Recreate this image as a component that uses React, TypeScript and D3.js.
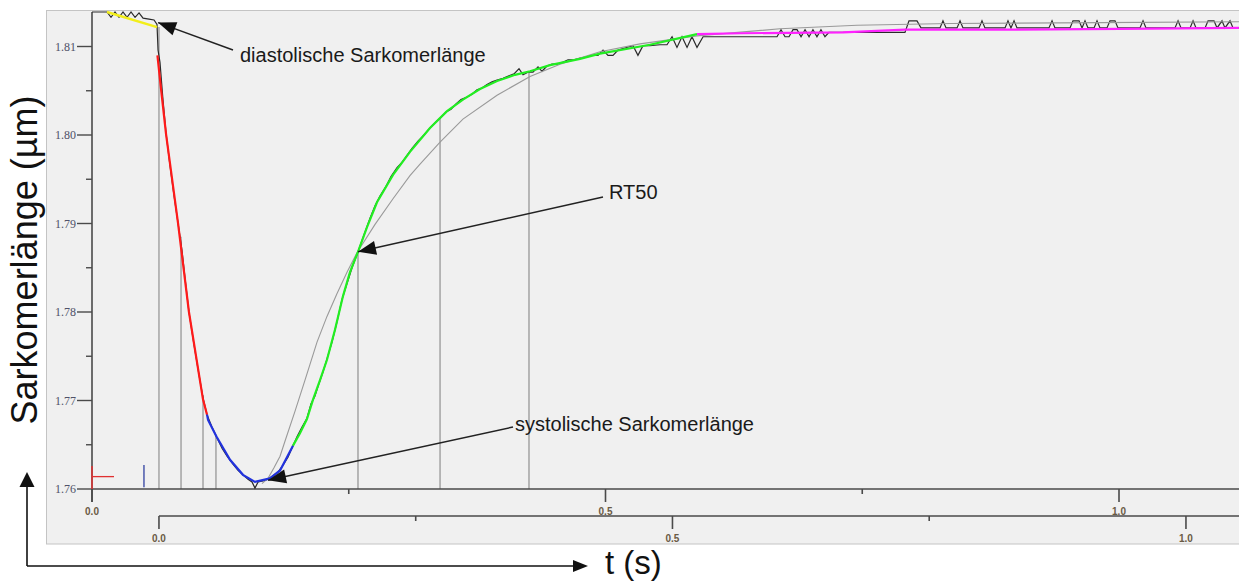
import React from 'react';
import * as d3 from 'd3';

const W = 1239;
const H = 582;

// raw sarcomere length trace: [t (s), length (µm)]
const rawTrace: [number, number][] = [
  [0, 1.8139], [0.0146, 1.8139], [0.0185, 1.8133], [0.0224, 1.8139], [0.0263, 1.8133],
  [0.0302, 1.8139], [0.0341, 1.8133], [0.038, 1.8139], [0.0419, 1.8133], [0.0458, 1.8138],
  [0.0497, 1.8132], [0.0555, 1.8131], [0.0604, 1.813], [0.0633, 1.8125], [0.0643, 1.8096],
  [0.0662, 1.8082], [0.0691, 1.804], [0.0721, 1.8002], [0.0759, 1.7966], [0.0798, 1.7932],
  [0.0837, 1.7901], [0.0876, 1.787], [0.0906, 1.7838], [0.0944, 1.78], [0.0993, 1.7763],
  [0.1042, 1.7729], [0.1081, 1.7703], [0.112, 1.7684], [0.1168, 1.767], [0.1217, 1.7658],
  [0.1266, 1.7646], [0.1315, 1.7637], [0.1373, 1.7628], [0.1422, 1.7621], [0.147, 1.7616],
  [0.1519, 1.7611], [0.1558, 1.7608], [0.1587, 1.7601], [0.1617, 1.7608], [0.1665, 1.7609],
  [0.1714, 1.7611], [0.1762, 1.7615], [0.1811, 1.7619], [0.186, 1.7627], [0.1908, 1.7636],
  [0.1957, 1.7649], [0.1996, 1.7659], [0.2045, 1.767], [0.2093, 1.768], [0.2132, 1.7696],
  [0.2171, 1.7705], [0.221, 1.7719], [0.2249, 1.7732], [0.2288, 1.7747], [0.2337, 1.7766],
  [0.2386, 1.7789], [0.2434, 1.7814], [0.2483, 1.7832], [0.2532, 1.785], [0.259, 1.7868],
  [0.2648, 1.7887], [0.2707, 1.7906], [0.2756, 1.792], [0.2804, 1.7931], [0.2863, 1.7942],
  [0.2911, 1.7953], [0.297, 1.7963], [0.3018, 1.7969], [0.3067, 1.7977], [0.3116, 1.7985],
  [0.3174, 1.7993], [0.3233, 1.8], [0.3291, 1.8008], [0.335, 1.8015], [0.3398, 1.802],
  [0.3447, 1.8026], [0.3496, 1.8029], [0.3544, 1.8035], [0.3593, 1.804], [0.3651, 1.8043],
  [0.37, 1.8046], [0.3749, 1.8051], [0.3797, 1.8053], [0.3846, 1.8057], [0.3895, 1.806],
  [0.3944, 1.8062], [0.4002, 1.8064], [0.406, 1.8067], [0.4109, 1.8069], [0.4158, 1.8075],
  [0.4197, 1.8068], [0.4245, 1.8071], [0.4294, 1.8071], [0.4343, 1.8077], [0.4382, 1.8072],
  [0.443, 1.8078], [0.4479, 1.808], [0.4528, 1.808], [0.4577, 1.8082], [0.4635, 1.8085],
  [0.4693, 1.8085], [0.4752, 1.8087], [0.481, 1.8088], [0.4869, 1.809], [0.4927, 1.809],
  [0.4976, 1.8096], [0.5024, 1.809], [0.5073, 1.809], [0.5122, 1.8096], [0.518, 1.8098],
  [0.5268, 1.8101], [0.5316, 1.809], [0.5365, 1.8101], [0.5433, 1.8101], [0.5531, 1.8102],
  [0.5599, 1.8102], [0.5648, 1.8111], [0.5696, 1.8099], [0.5745, 1.8111], [0.5794, 1.8099],
  [0.5842, 1.8111], [0.5891, 1.8099], [0.595, 1.8111], [0.667, 1.8111], [0.6709, 1.8119],
  [0.6748, 1.8111], [0.6787, 1.8111], [0.6826, 1.8119], [0.6865, 1.8119], [0.6904, 1.8111],
  [0.6943, 1.8119], [0.6982, 1.8111], [0.702, 1.8119], [0.7059, 1.8111], [0.7098, 1.8119],
  [0.7137, 1.8111], [0.7176, 1.8116], [0.7916, 1.8116], [0.7955, 1.8129], [0.8033, 1.8129],
  [0.8072, 1.8121], [0.8257, 1.8121], [0.8286, 1.8129], [0.8316, 1.8121], [0.8423, 1.8121],
  [0.8452, 1.8129], [0.8481, 1.8121], [0.8637, 1.8121], [0.8666, 1.8129], [0.8695, 1.8121],
  [0.889, 1.8121], [0.8919, 1.8129], [0.8948, 1.8121], [0.8978, 1.8129], [0.9007, 1.8121],
  [0.9318, 1.8121], [0.9348, 1.8129], [0.9377, 1.8121], [0.9523, 1.8121], [0.9552, 1.8129],
  [0.9611, 1.8129], [0.964, 1.8121], [0.9669, 1.8129], [0.9698, 1.8121], [0.9757, 1.8121],
  [0.9786, 1.8129], [0.9815, 1.8121], [0.9883, 1.8121], [0.9912, 1.8129], [0.9961, 1.8129],
  [0.999, 1.8121], [1.0204, 1.8121], [1.0234, 1.8129], [1.0263, 1.8121], [1.0545, 1.8121],
  [1.0575, 1.8129], [1.0604, 1.8121], [1.0692, 1.8121], [1.0721, 1.8129], [1.075, 1.8121],
  [1.0838, 1.8121], [1.0867, 1.8129], [1.0925, 1.8129], [1.0955, 1.8121], [1.1003, 1.8129],
  [1.1032, 1.8121], [1.1081, 1.8129], [1.111, 1.8121], [1.1168, 1.8121],
];

// fitted segments
const baselineFit: [number, number][] = [[0.0146, 1.8139], [0.0633, 1.8122]];
const contractionFit: [number, number][] = [
  [0.0637, 1.809], [0.0672, 1.8052], [0.0721, 1.8001], [0.0837, 1.7901],
  [0.0944, 1.78], [0.1081, 1.7701], [0.112, 1.7684],
];
const peakFit: [number, number][] = [
  [0.112, 1.7684], [0.113, 1.7678], [0.1213, 1.7659], [0.1344, 1.7633], [0.147, 1.7616],
  [0.1587, 1.7608], [0.1733, 1.7612], [0.1831, 1.7621], [0.1957, 1.7649],
];
const relaxFit: [number, number][] = [
  [0.1957, 1.7649], [0.2025, 1.7663], [0.2093, 1.7679], [0.2152, 1.7701], [0.222, 1.7723],
  [0.2288, 1.7746], [0.2366, 1.778], [0.2444, 1.7818], [0.2512, 1.7845], [0.259, 1.7868],
  [0.2678, 1.7896], [0.2775, 1.7924], [0.2931, 1.7955], [0.3096, 1.7981], [0.3291, 1.8008],
  [0.3457, 1.8027], [0.3612, 1.804], [0.3778, 1.8052], [0.3944, 1.8061], [0.4119, 1.8068],
  [0.4265, 1.8072], [0.446, 1.8079], [0.4752, 1.8086], [0.4946, 1.8092], [0.5433, 1.8102],
  [0.5891, 1.8114],
];
const restFit: [number, number][] = [
  [0.5891, 1.8114], [0.631, 1.8115], [0.7313, 1.8116], [0.7916, 1.8119],
  [0.8841, 1.8119], [1.001, 1.812], [1.1168, 1.8121],
];
const expFit: [number, number][] = [
  [0.1655, 1.7606], [0.1714, 1.7612], [0.1772, 1.7624], [0.1831, 1.7637], [0.1879, 1.7654],
  [0.1977, 1.7688], [0.2074, 1.7723], [0.2191, 1.7766], [0.2288, 1.7795], [0.2386, 1.7821],
  [0.2483, 1.7845], [0.258, 1.7867], [0.2756, 1.7899], [0.2931, 1.7928], [0.3096, 1.7954],
  [0.3194, 1.7967], [0.3389, 1.7992], [0.3612, 1.8018], [0.3944, 1.8045], [0.4265, 1.8066],
  [0.4557, 1.808], [0.4946, 1.8094], [0.5336, 1.8103], [0.5891, 1.8112], [0.6699, 1.812],
  [0.7449, 1.8124], [0.8354, 1.8126], [0.9815, 1.8127], [1.1168, 1.8128],
];

// time markers (vertical lines) and where they meet the trace
const markerTimes = [0.0652, 0.0867, 0.1081, 0.1207, 0.259, 0.3389, 0.4255];
const markerTops = [1.8122, 1.7885, 1.7706, 1.7661, 1.7868, 1.8019, 1.8071];

const yTicks = [1.76, 1.77, 1.78, 1.79, 1.8, 1.81];
const yMinor = [1.765, 1.775, 1.785, 1.795, 1.805];
const xTicks = [0, 0.5, 1.0];
const xMinor = [0.25, 0.75];
const stimOffset = 0.0652;

// annotations: arrow tip in data units, label
const annotations = [
  { tip: [0.0643, 1.8127], from: [233, 50], text: 'diastolische Sarkomerlänge', tx: 240, ty: 62 },
  { tip: [0.259, 1.7868], from: [603, 197], text: 'RT50', tx: 609, ty: 199 },
  { tip: [0.1714, 1.761], from: [513, 427], text: 'systolische Sarkomerlänge', tx: 515, ty: 431 },
];

const x = d3.scaleLinear().domain([0, 1]).range([92, 1119]);
const x2 = d3.scaleLinear().domain([0, 1]).range([x(stimOffset), x(stimOffset + 1)]);
const y = d3.scaleLinear().domain([1.76, 1.81]).range([489, 46.5]);

const line = d3.line<[number, number]>().x(d => x(d[0])).y(d => y(d[1]));

function arrowHead(x1: number, y1: number, x2p: number, y2p: number, len = 18, half = 7) {
  const a = Math.atan2(y2p - y1, x2p - x1);
  const bx = x2p - len * Math.cos(a);
  const by = y2p - len * Math.sin(a);
  const px = -Math.sin(a) * half;
  const py = Math.cos(a) * half;
  return `M${x2p},${y2p}L${bx + px},${by + py}L${bx - px},${by - py}Z`;
}

export default function App() {
  const fmt1 = d3.format('.1f');
  const fmt2 = d3.format('.2f');
  const axisY = y(1.76);
  const axis2Y = 516;
  const labelFont = 'Liberation Sans, Arial, sans-serif';

  return (
    <svg width={W} height={H} style={{ position: 'absolute', left: 0, top: 0, background: '#fff' }}>
      <rect x={46.5} y={10.5} width={W} height={533.5} fill="#f0f0f0" stroke="#c4c4c4" />

      {/* time markers */}
      {markerTimes.map((t, i) => (
        <line key={i} x1={x(t)} x2={x(t)} y1={y(markerTops[i])} y2={axisY}
          stroke="#a8a8a8" strokeWidth={1.6} />
      ))}

      {/* y axis */}
      <line x1={x(0)} x2={x(0)} y1={y(1.8139)} y2={axisY + 13} stroke="#4a4a4a" strokeWidth={1.6} />
      {yTicks.map(v => (
        <g key={v}>
          <line x1={x(0) - 15} x2={x(0)} y1={y(v)} y2={y(v)} stroke="#4a4a4a" strokeWidth={1.4} />
          <text x={x(0) - 16} y={y(v) + 4} textAnchor="end" fontSize={12}
            fontFamily="Liberation Serif, Times New Roman, serif" fill="#4f5268">{fmt2(v)}</text>
        </g>
      ))}
      {yMinor.map(v => (
        <line key={v} x1={x(0) - 6} x2={x(0)} y1={y(v)} y2={y(v)} stroke="#4a4a4a" strokeWidth={1.4} />
      ))}

      {/* x axis 1 */}
      <line x1={x(0)} x2={W} y1={axisY} y2={axisY} stroke="#4a4a4a" strokeWidth={1.6} />
      {xTicks.map(t => (
        <g key={t}>
          <line x1={x(t)} x2={x(t)} y1={axisY} y2={axisY + 13} stroke="#4a4a4a" strokeWidth={1.6} />
          <text x={x(t)} y={axisY + 26} textAnchor="middle" fontSize={10} fontWeight="bold"
            fontFamily={labelFont} fill="#6a5a44">{fmt1(t)}</text>
        </g>
      ))}
      {xMinor.map(t => (
        <line key={t} x1={x(t)} x2={x(t)} y1={axisY} y2={axisY + 5} stroke="#4a4a4a" strokeWidth={1.6} />
      ))}

      {/* x axis 2 (from stimulus) */}
      <line x1={x2(0)} x2={W} y1={axis2Y} y2={axis2Y} stroke="#4a4a4a" strokeWidth={1.6} />
      {xTicks.map(t => (
        <g key={t}>
          <line x1={x2(t)} x2={x2(t)} y1={axis2Y} y2={axis2Y + 13} stroke="#4a4a4a" strokeWidth={1.6} />
          <text x={x2(t)} y={axis2Y + 26} textAnchor="middle" fontSize={10} fontWeight="bold"
            fontFamily={labelFont} fill="#6a5a44">{fmt1(t)}</text>
        </g>
      ))}
      {xMinor.map(t => (
        <line key={t} x1={x2(t)} x2={x2(t)} y1={axis2Y} y2={axis2Y + 5} stroke="#4a4a4a" strokeWidth={1.6} />
      ))}

      {/* small markers at origin */}
      <line x1={x(0)} x2={x(0)} y1={y(1.76)} y2={y(1.7626)} stroke="#e03030" strokeWidth={1.5} />
      <line x1={x(0)} x2={x(0.0214)} y1={y(1.7614)} y2={y(1.7614)} stroke="#e03030" strokeWidth={1.3} />
      <line x1={x(0.0506)} x2={x(0.0506)} y1={y(1.7602)} y2={y(1.7627)} stroke="#3040a0" strokeWidth={1.3} />

      {/* curves */}
      <path d={line(rawTrace) || ''} fill="none" stroke="#2a2a2a" strokeWidth={1.2} />
      <path d={line(expFit) || ''} fill="none" stroke="#999" strokeWidth={1.1} />
      <path d={line(baselineFit) || ''} fill="none" stroke="#f2ee1a" strokeWidth={2.4} />
      <path d={line(contractionFit) || ''} fill="none" stroke="#ff1a1a" strokeWidth={2.2} />
      <path d={line(peakFit) || ''} fill="none" stroke="#2233dd" strokeWidth={2.2} />
      <path d={line(relaxFit) || ''} fill="none" stroke="#22ee22" strokeWidth={2.2} />
      <path d={line(restFit) || ''} fill="none" stroke="#ff22ff" strokeWidth={2.2} />

      {/* annotations */}
      {annotations.map(a => {
        const tx = x(a.tip[0]);
        const ty = y(a.tip[1]);
        return (
          <g key={a.text}>
            <line x1={a.from[0]} y1={a.from[1]} x2={tx} y2={ty} stroke="#222" strokeWidth={1.5} />
            <path d={arrowHead(a.from[0], a.from[1], tx, ty)} fill="#111" />
            <text x={a.tx} y={a.ty} fontSize={20} fontFamily={labelFont} fill="#1a1a1a">{a.text}</text>
          </g>
        );
      })}

      {/* outer axis arrows and titles */}
      <line x1={27} x2={27} y1={566} y2={484} stroke="#111" strokeWidth={1.6} />
      <path d={arrowHead(27, 566, 27, 472, 15, 7.5)} fill="#111" />
      <line x1={27} x2={575} y1={566} y2={566} stroke="#111" strokeWidth={1.6} />
      <path d={arrowHead(27, 566, 588, 566, 15, 6)} fill="#111" />
      <text x={605} y={574} fontSize={33} fontFamily={labelFont} fill="#111">t (s)</text>
      <text transform="translate(37,260) rotate(-90)" textAnchor="middle" fontSize={36}
        fontFamily={labelFont} fill="#111">Sarkomerlänge (µm)</text>
    </svg>
  );
}
